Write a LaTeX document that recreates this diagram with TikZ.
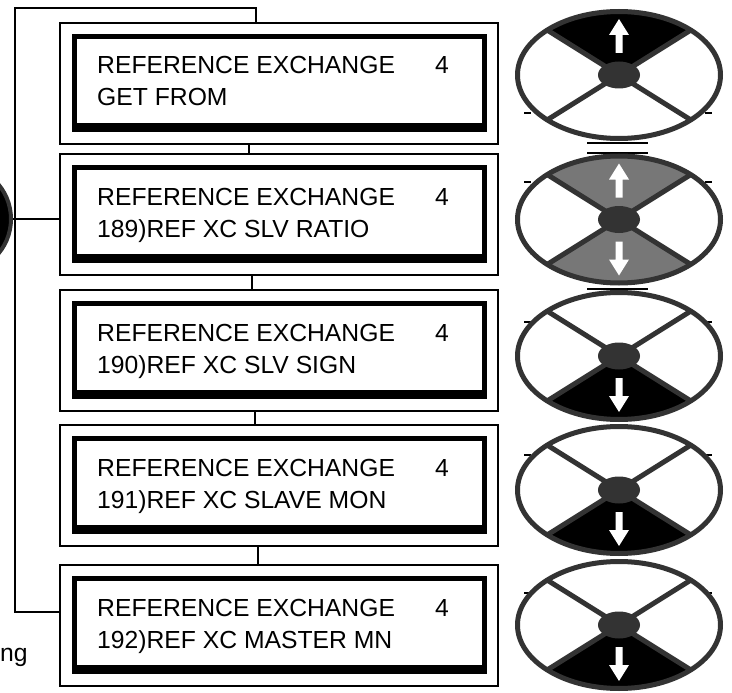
\documentclass[tikz,border=0pt]{standalone}
\usepackage{fontspec}
\setmainfont{Liberation Sans}
\definecolor{rim}{HTML}{333333}
\definecolor{midgray}{HTML}{777777}
\tikzset{
  outerbox/.style={draw, line width=1.4pt, minimum width=438pt, minimum height=121pt, inner sep=0pt},
  lcdtext/.style={anchor=base west, inner sep=0pt, font=\fontsize{24.7pt}{30pt}\selectfont},
  wire/.style={line width=1.3pt},
  rimline/.style={draw=rim, line width=5pt},
  tick/.style={line width=2pt, black},
}
% box: name, top, second line
\newcommand\lcdbox[3]{%
  \node[outerbox] (#1) at (279,#2+60.5) {};
  \fill[black] (72,#2+11) rectangle (487,#2+109);
  \fill[white] (77,#2+16) rectangle (482,#2+100);
  \node[lcdtext] (#1a) at (97,#2+51) {REFERENCE EXCHANGE};
  \node[lcdtext] (#1n) at (435,#2+51) {4};
  \node[lcdtext] (#1b) at (97,#2+83) {#3};
}
\newcommand\uparr{\fill[white] (-3.5,-22) -- (-3.5,-40) -- (-10,-40) -- (0,-56) -- (10,-40) -- (3.5,-40) -- (3.5,-22) -- cycle;}
\newcommand\downarr{\fill[white] (-3.5,22) -- (-3.5,40) -- (-10,40) -- (0,56) -- (10,40) -- (3.5,40) -- (3.5,22) -- cycle;}
% knob: name, centre y, upper fill, lower fill, arrows
\newcommand\knob[5]{%
  \coordinate (#1) at (619,#2);
  \begin{scope}[shift={(#1)}]
    \fill[white] (0,0) ellipse [x radius=101.5pt, y radius=63.5pt];
    \fill[#3] (0,0) -- (45:101.5pt and 63.5pt) arc [start angle=45, end angle=135, x radius=101.5pt, y radius=63.5pt] -- cycle;
    \fill[#4] (0,0) -- (225:101.5pt and 63.5pt) arc [start angle=225, end angle=315, x radius=101.5pt, y radius=63.5pt] -- cycle;
    \draw[rimline] (45:101.5pt and 63.5pt) -- (225:101.5pt and 63.5pt);
    \draw[rimline] (135:101.5pt and 63.5pt) -- (315:101.5pt and 63.5pt);
    \draw[rimline] (0,0) ellipse [x radius=101.5pt, y radius=63.5pt];
    \fill[rim] (0,0) ellipse [x radius=21pt, y radius=13.5pt];
    #5
  \end{scope}
}
\begin{document}
\begin{tikzpicture}[x=1pt, y=-1pt]
\useasboundingbox (0,0) rectangle (732,693);
\fill[white] (0,0) rectangle (732,693);

% left dial
\node[circle, draw=rim, fill=black, line width=4pt, minimum size=108pt, inner sep=0pt] (dial) at (-43,219) {};

% display boxes
\lcdbox{b1}{23}{GET FROM}
\lcdbox{b2}{154}{189)REF XC SLV RATIO}
\lcdbox{b3}{290}{190)REF XC SLV SIGN}
\lcdbox{b4}{425}{191)REF XC SLAVE MON}
\lcdbox{b5}{565}{192)REF XC MASTER MN}

% connectors
\draw[wire] ([xshift=-30pt]b1.south) -- ([xshift=-30pt]b2.north);
\draw[wire] ([xshift=-27pt]b2.south) -- ([xshift=-27pt]b3.north);
\draw[wire] ([xshift=-24pt]b3.south) -- ([xshift=-24pt]b4.north);
\draw[wire] ([xshift=-21pt]b4.south) -- ([xshift=-21pt]b5.north);
\draw[wire] ([xshift=-23pt]b1.north) |- (15,8) |- ([yshift=13.5pt]b5.west);
\draw[wire] (dial.east) -- (dial.east -| b2.west);

\node[lcdtext] (cut) at (0,661) {ng};

% small marks behind the knobs
\fill[black] (587,142) rectangle (648,144.5);
\fill[black] (587,152) rectangle (648,154.5);
\fill[black] (587,287.5) rectangle (648,290);
\foreach \ty in {113,182,322,455,593} {
  \draw[tick] (524,\ty) -- (531,\ty);
  \draw[tick] (705,\ty) -- (712,\ty);
}

% knobs
\knob{k1}{75}{black}{white}{\uparr}
\knob{k2}{219.5}{midgray}{midgray}{\uparr\downarr}
\knob{k3}{356}{white}{black}{\downarr}
\knob{k4}{490}{white}{black}{\downarr}
\knob{k5}{625}{white}{black}{\downarr}
\end{tikzpicture}
\end{document}
